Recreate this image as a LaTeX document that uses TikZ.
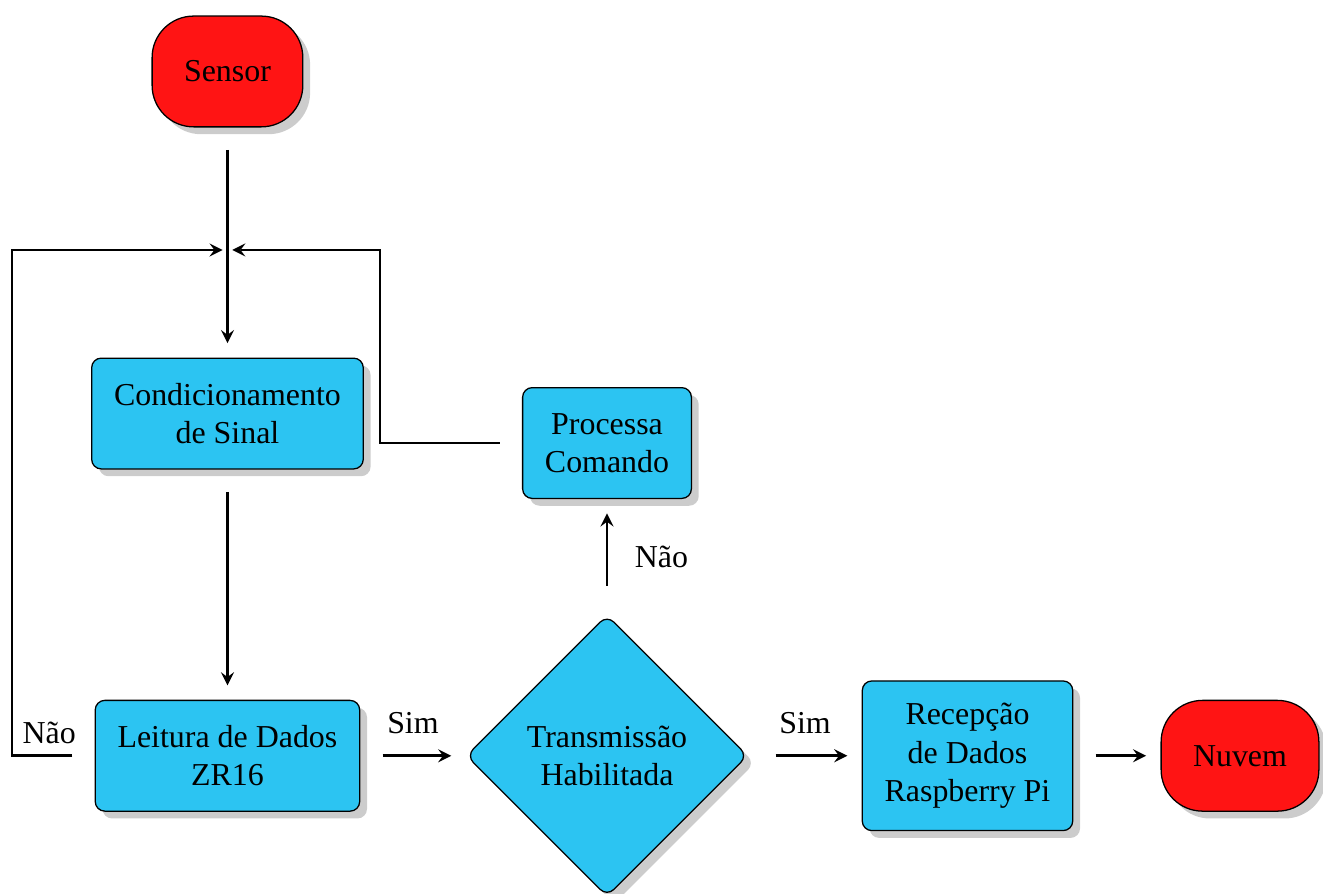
\documentclass[tikz,border=0pt]{standalone}
\usepackage{fontspec}
\setmainfont{Liberation Serif}
\usetikzlibrary{shapes.geometric,shadows}
\definecolor{procblue}{RGB}{44,196,242}
\definecolor{termred}{RGB}{255,20,20}

\begin{document}
\begin{tikzpicture}
[line width=0.8pt,
 term/.style={draw, thin, fill=termred, rounded corners=13pt, inner xsep=10pt,
   minimum height=1.22cm, drop shadow={opacity=0.4}},
 proc/.style={draw, thin, fill=procblue, rounded corners=3pt, align=center,
   inner xsep=7pt, inner ysep=7pt, minimum height=1.22cm, drop shadow={opacity=0.4}},
 decision/.style={draw, thin, diamond, aspect=1, fill=procblue, rounded corners=3pt,
   align=center, minimum width=3.1cm, minimum height=3.1cm, drop shadow={opacity=0.4}},
 flow/.style={-stealth, shorten <=7pt, shorten >=4.5pt}]
\useasboundingbox (0,0) rectangle (14.57,-9.835);
%% nodes
\node (sensor) at (2.505, -0.787) [term] {Sensor};
\node (cond)   at (2.505, -4.554) [proc] {Condicionamento\\de Sinal};
\node (leit)   at (2.505, -8.323) [proc] {Leitura de Dados\\ZR16};
\node (proc)   at (6.685, -4.879) [proc] {Processa\\Comando};
\node (trans)  at (6.685, -8.323) [decision] {Transmiss\~ao\\Habilitada};
\node (recep)  at (10.655, -8.323) [proc] {Recep\c{c}\~ao\\de Dados\\Raspberry Pi};
\node (nuvem)  at (13.656, -8.323) [term] {Nuvem};
%% loop points
\coordinate (jct)   at (2.505, -2.753);
\coordinate (loopL) at (0.132, -2.753);
\coordinate (loopR) at (4.185, -2.753);
%% main chain
\draw[flow] (sensor) -- (cond);
\draw[flow] (cond) -- (leit);
\draw[flow] (leit) -- node[above=3pt] {Sim} (trans);
\draw[flow, shorten <=8.5pt] (trans) -- node[above=3pt] {Sim} (recep);
\draw[flow] (recep) -- (nuvem);
\draw[flow, shorten <=9pt] (trans.north) -- node[right=5pt] {N\~ao} (proc.south);
%% feedback loops
\draw[flow, shorten >=1.5pt] (leit.west) -- node[above, pos=.55] {N\~ao} (leit.west -| loopL) |- (jct);
\draw[flow, shorten >=1.5pt] (proc.west) -- (proc.west -| loopR) |- (jct);
\end{tikzpicture}
\end{document}
